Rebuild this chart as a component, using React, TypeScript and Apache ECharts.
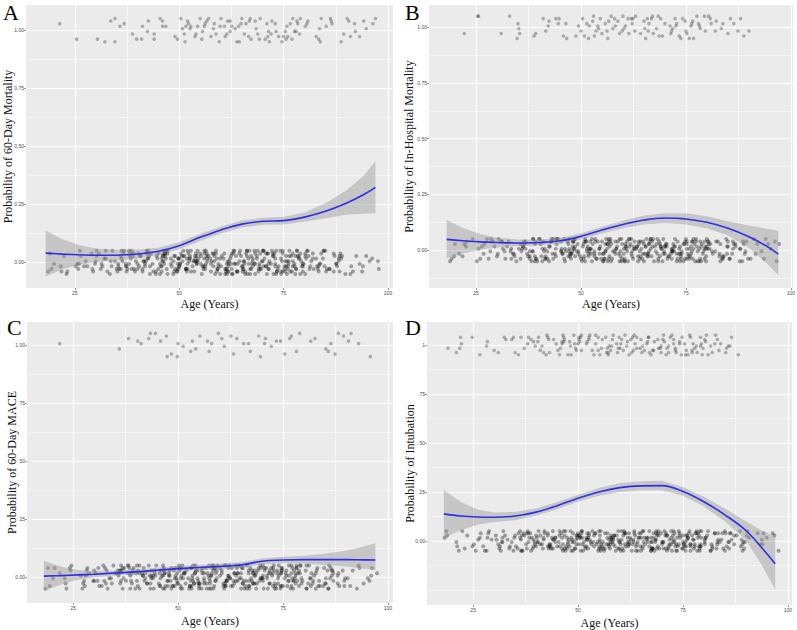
import React, { useEffect, useRef } from 'react';
import * as echarts from 'echarts';

// ---------- data ----------
const ages = [18, 22, 26, 30, 35, 40, 45, 50, 55, 60, 65, 70, 75, 80, 85, 90, 94, 97];

const fitA = [0.040, 0.036, 0.033, 0.031, 0.031, 0.036, 0.048, 0.072, 0.108, 0.140, 0.165, 0.177, 0.180, 0.195, 0.220, 0.255, 0.290, 0.323];
const highA = [0.138, 0.100, 0.075, 0.060, 0.055, 0.056, 0.063, 0.087, 0.124, 0.155, 0.180, 0.192, 0.197, 0.215, 0.255, 0.310, 0.370, 0.435];
const lowA = [-0.060, -0.030, -0.010, 0.002, 0.008, 0.016, 0.033, 0.057, 0.092, 0.125, 0.150, 0.162, 0.163, 0.175, 0.190, 0.205, 0.210, 0.212];

const fitB = [0.048, 0.042, 0.037, 0.034, 0.032, 0.034, 0.042, 0.062, 0.090, 0.115, 0.135, 0.144, 0.140, 0.125, 0.098, 0.060, 0.020, -0.018];
const highB = [0.135, 0.098, 0.072, 0.056, 0.048, 0.047, 0.055, 0.076, 0.105, 0.132, 0.155, 0.166, 0.165, 0.152, 0.130, 0.110, 0.097, 0.087];
const lowB = [-0.037, -0.014, 0.002, 0.012, 0.017, 0.021, 0.029, 0.048, 0.075, 0.098, 0.115, 0.122, 0.115, 0.098, 0.066, 0.010, -0.055, -0.113];

const fitC = [0.004, 0.006, 0.009, 0.012, 0.017, 0.022, 0.029, 0.036, 0.041, 0.046, 0.052, 0.068, 0.073, 0.075, 0.075, 0.075, 0.074, 0.073];
const highC = [0.070, 0.045, 0.030, 0.026, 0.028, 0.031, 0.040, 0.047, 0.052, 0.058, 0.064, 0.080, 0.087, 0.092, 0.100, 0.113, 0.130, 0.145];
const lowC = [-0.060, -0.033, -0.012, -0.002, 0.006, 0.013, 0.018, 0.025, 0.030, 0.034, 0.040, 0.055, 0.059, 0.058, 0.052, 0.045, 0.037, 0.030];

const fitD = [0.138, 0.127, 0.122, 0.121, 0.127, 0.147, 0.180, 0.218, 0.250, 0.272, 0.281, 0.282, 0.252, 0.200, 0.133, 0.053, -0.040, -0.117];
const highD = [0.260, 0.200, 0.160, 0.145, 0.148, 0.165, 0.198, 0.235, 0.270, 0.295, 0.305, 0.307, 0.275, 0.225, 0.165, 0.100, 0.050, 0.022];
const lowD = [0.014, 0.055, 0.083, 0.097, 0.105, 0.128, 0.162, 0.200, 0.230, 0.250, 0.258, 0.258, 0.230, 0.175, 0.100, 0.005, -0.130, -0.250];

// jittered observations: "age:" then pairs (age offset digit, vertical jitter digit)
const topA = ['20:77', '24:71', '30:21', '32:1088', '34:393096', '36:47', '38:4391', '40:5166', '42:2438', '44:030179', '46:080646', '48:5281',
  '50:2945708663', '52:0817354692', '54:2659840371', '56:1706388259', '58:4327961580', '60:0952467388', '62:3618751490', '64:5920164783',
  '66:0748325961', '68:2579436118', '70:6231805774', '72:1864920357', '74:3096527481', '76:8451026937', '78:2718590443',
  '80:163748', '82:42857190', '84:0966', '86:281937', '88:4073', '90:381952', '92:146207', '94:1845', '96:2759'];
const zeroA = ['18:317258', '20:048391', '22:615027', '24:928463', '26:2719046385', '28:5803716294', '30:1962837405', '32:4170938526', '34:8235610974',
  '36:0716253849718263', '38:3958172604857132', '40:6204931875236147', '42:1839504726681953', '44:7052839146209374',
  '46:2946183705526817493860', '48:8130965247713592068441', '50:5782140396829167450328', '52:0463978125361849027596',
  '54:9317250864148305926715', '56:3609841257762913084538', '58:6251739048305627491862', '60:1794036285527493816170',
  '62:4038592716913058247469', '64:7562018439284761539025', '66:0817364952671920348586', '68:5249781036950472631814',
  '70:2685097413436819057248', '72:9371542860718253690437', '74:4126839075193587214962', '76:8490316527630214978351',
  '78:3758024619841936502783', '80:621049738517', '82:947306128462', '84:085972436139', '86:519384026758', '88:274690153821',
  '90:638150', '92:912764', '94:470385', '96:859216'];
const extraA = ['30:4817', '32:0629', '34:5273', '36:73196402', '38:18620957', '40:94370285', '42:36059184', '44:58213796',
  '46:6924073815', '48:1357960482', '50:8206143759', '52:3741850926', '54:7058293614', '56:2495068137',
  '58:9613742508', '60:4836915072', '62:0587326491', '64:6372049185', '66:1950836274', '68:8264513709',
  '70:5019687243', '72:2748301956', '74:7163954820', '76:0329476815', '78:6581027394', '80:39571826', '82:71084653',
  '84:2639', '86:8402', '88:5716'];

const topB = ['22:12', '24:7989', '30:52', '32:59', '34:56726440', '38:4162', '40:5883', '42:2715', '44:08489136', '46:2630', '48:7541',
  '50:2876034190', '52:4761830559', '54:1405385296', '56:6920133784', '58:0847621593', '60:3568097214', '62:5916284308',
  '64:1270649857', '66:4803165962', '68:7158290431', '70:0694837265', '72:3571462890', '74:6218904753', '76:1540372689',
  '78:8306157924', '80:295648', '82:17039674', '84:5288', '86:2673', '88:4108', '90:03'];
const zeroB = ['18:926140', '20:530792', '22:174836', '24:856019', '26:4389012657', '28:7601583924', '30:0275946813', '32:9348260175', '34:6512879430',
  '36:2894051637924816', '38:5039716824103957', '40:8175320964458271', '42:3620487159932604', '44:6483197502176839',
  '46:1057836924480193726515', '48:7392540618253967180432', '50:4826019375106842593768', '52:9164782530638179042315',
  '54:2508364197947360815823', '56:6731095842271584396017', '58:0469721853809136257489', '60:5815367920462097138654',
  '62:1276804536983521760948', '64:8943125076315748926301', '66:3586940217694203581739', '68:7021658394138965472056',
  '70:0694273185527381069442', '72:4358910726861429735180', '74:9127486503043795618267', '76:2860134978579016243894',
  '78:6415789230218653907571', '80:350918642773', '82:819267045318', '84:467102583956', '86:032795461847', '88:785320916405',
  '90:216983', '92:548107', '94:093765', '96:673018'];
const extraB = ['30:2958', '32:7164', '34:0381', '36:45917263', '38:80346152', '40:27581940', '42:63015879', '44:19748305',
  '46:5281640973', '48:0836297415', '50:7450318692', '52:3918056247', '54:8163702594', '56:4620597138',
  '58:1397486025', '60:6045213789', '62:9782650314', '64:2518930476', '66:7039145628', '68:3856071942',
  '70:8403269517', '72:1675834092', '74:5920417368', '76:3186790245', '78:9547102836', '80:06284715', '82:52916038',
  '84:7143', '86:1590', '88:3847'];

const topC = ['20:95', '36:03', '38:17', '40:2665', '42:5779', '44:3996', '46:7068', '48:2190', '50:0564', '52:5276', '54:1368', '56:5672',
  '58:0589', '60:2754', '62:3861', '64:0785', '66:4562', '68:6880', '70:3547', '72:1476', '74:2671', '76:5837', '78:1259',
  '80:86', '82:37', '84:6392', '86:2571', '88:1978', '90:3669', '92:55', '94:90'];
const zeroC = ['18:582071', '20:149638', '22:706254', '24:391827', '26:6045839172', '28:2893170546', '30:9126584307', '32:5760231984', '34:0439875612',
  '36:8317062954481723', '38:1652904378563019', '40:4906138527219846', '42:7284591603876532', '44:3510867249042791',
  '46:9637254081735146208395', '48:2084619375960728413157', '50:6419385027314592867630', '52:0753924168583061742489',
  '54:5196803742069834521706', '56:8342167095741256903814', '58:1867430529386419270653', '60:4205796183625973084127',
  '62:7631058924190548637295', '64:2978341650837216549068', '66:5029687413468792015341', '68:9468125730253684179802',
  '70:3814972065701358926419', '72:6150389247874931062586', '74:0597214836318647953720', '76:8723560194594025136873',
  '78:2369741805061872594136', '80:748130965239', '82:136857024691', '84:905264318748', '86:563709142853', '88:219483670516',
  '90:872451', '92:305968', '94:641283', '96:180576'];
const extraC = ['30:6103', '32:3842', '34:9576', '36:12684037', '38:67093528', '40:40851976', '42:85327014', '44:26940581',
  '46:0715382946', '48:6492057813', '50:1834760259', '52:9260418375', '54:4387195062', '56:7913826540',
  '58:2056314879', '60:8371945026', '62:5124087693', '64:0849561372', '66:9683204751', '68:4215738906',
  '70:1592860437', '72:7036521894', '74:3874092651', '76:6451837029', '78:0219564783', '80:84306927', '82:25718340',
  '84:9062', '86:4735', '88:0281'];

const topD = ['18:53', '20:5193', '22:0815', '24:48', '26:30', '28:2614', '30:5102', '32:4728', '34:17389051', '36:2863', '38:0594471876',
  '40:3826915274', '42:6148203957', '44:1793624580', '46:47801536293816', '48:06591482736520', '50:38264917051842',
  '52:72053849163790', '54:15974260831948', '56:60384192745361', '58:29716504839817', '60:84150327966942', '62:41627985103758',
  '64:57084361927403', '66:92365170484825', '68:16839402576391', '70:63501784298136', '72:08452963716247', '74:75163048921580',
  '76:39627510486193', '78:21806493751468', '80:8417263950', '82:4935016782', '84:05739461', '86:3814', '88:10'];
const zeroD = ['18:473916', '20:806254', '22:295187', '24:638042', '26:1572904836', '28:4926381075', '30:8053619427', '32:3781046592', '34:6298573014',
  '36:9140836725163098', '38:2675140938847261', '40:5307962481395724', '42:0851427396628147', '44:7436098215053689',
  '46:3962715084419576230811', '48:6185349702837154962048', '50:1730482659564908271336', '52:8497021563183726450592',
  '54:4023657918706451839267', '56:9658104372218397045681', '58:2314896705850642913725', '60:7840253196472913680459',
  '62:0279531864903578261403', '64:5603718942361084795826', '66:8126347059745236918170', '68:3571980624086741523958',
  '70:6047215839519367042481', '72:1392864570375480196234', '74:9754032618847251630917', '76:4281679305163928754043',
  '78:7936420851625019387662', '80:591347802614', '82:027863519438', '84:683150947215', '86:359728041863', '88:816042395574',
  '90:462917', '92:739548', '94:185603', '96:904728'];
const extraD = ['30:7235', '32:1906', '34:4681', '36:58203719', '38:93561840', '40:16739502', '42:72480963', '44:34015287',
  '46:8359164720', '48:2687403519', '50:9153826074', '52:5406792138', '54:0871345962', '56:6328019475',
  '58:3794502681', '60:9410637258', '62:4065928713', '64:7238145096', '66:2591760384', '68:6947381025',
  '70:0382956714', '72:5816207349', '74:8057634192', '76:1643928507', '78:4720186359', '80:93152680', '82:38640175',
  '84:5928', '86:0167', '88:6394'];

const xTicks = [25, 50, 75, 100];
const xTickLabels = ['25', '50', '75', '100'];
const xMinor = [37.5, 62.5, 87.5];
const yTicks = [0, 0.25, 0.5, 0.75, 1];
const yMinor = [-0.25, -0.125, 0.125, 0.375, 0.625, 0.875];
const yLabelsA = ['0.00', '0.25', '0.50', '0.75', '1.00'];
const yLabelsB = ['0.00', '0.25', '0.50', '0.75', '1.00'];
const yLabelsC = ['0.00', '25', '50', '75', '1.00'];
const yLabelsD = ['0.00', '.25', '.50', '.75', '1'];

const letters = ['A', 'B', 'C', 'D'];
const yTitles = ['Probability of 60-Day Mortality', 'Probability of In-Hospital Mortality', 'Probability of 60-Day MACE', 'Probability of Intubation'];
const xTitle = 'Age (Years)';

// ---------- layout ----------
const layout = [
  { grid: { left: 26, top: 5, width: 367, height: 283 }, x: [13.3, 101.2], y: [-0.11, 1.108], tx: 8, xGap: 10, lx: 3, ly: 12 },
  { grid: { left: 429, top: 5, width: 364, height: 283 }, x: [13.8, 100.5], y: [-0.17, 1.10], tx: 409, xGap: 10, lx: 405, ly: 12 },
  { grid: { left: 27, top: 322, width: 366, height: 281 }, x: [14, 101.2], y: [-0.112, 1.099], tx: 12, xGap: 12, lx: 7, ly: 327 },
  { grid: { left: 427, top: 322, width: 365, height: 283 }, x: [14, 101], y: [-0.327, 1.117], tx: 410, xGap: 12, lx: 405, ly: 327 },
];

function decode(rows: string[], base: number): number[][] {
  const out: number[][] = [];
  rows.forEach((r) => {
    const [a, s] = r.split(':');
    for (let i = 0; i + 1 < s.length; i += 2) {
      out.push([Number(a) + Number(s[i]) * 0.2, base + (Number(s[i + 1]) - 4.5) / 90]);
    }
  });
  return out;
}

const panels = [
  { fit: fitA, low: lowA, high: highA, top: topA, zero: zeroA.concat(extraA), yl: yLabelsA },
  { fit: fitB, low: lowB, high: highB, top: topB, zero: zeroB.concat(extraB), yl: yLabelsB },
  { fit: fitC, low: lowC, high: highC, top: topC, zero: zeroC.concat(extraC), yl: yLabelsC },
  { fit: fitD, low: lowD, high: highD, top: topD, zero: zeroD.concat(extraD), yl: yLabelsD },
];

function buildOption() {
  const grid: any[] = [];
  const xAxis: any[] = [];
  const yAxis: any[] = [];
  const series: any[] = [];
  const graphic: any[] = [];
  const tickLabelStyle = { fontSize: 5, color: '#4D4D4D', fontFamily: 'Liberation Sans', margin: 2 };
  const titleStyle = { fontSize: 12, color: '#111', fontFamily: 'Liberation Serif' };

  panels.forEach((p, i) => {
    const L = layout[i];
    grid.push({ ...L.grid, show: true, backgroundColor: '#EBEBEB', borderWidth: 0, containLabel: false, outerBoundsMode: 'none' });
    xAxis.push({
      type: 'value', gridIndex: i, min: L.x[0], max: L.x[1],
      axisLine: { show: false, onZero: false },
      axisTick: { show: true, length: 2, customValues: xTicks, lineStyle: { color: '#333', width: 0.5 } },
      axisLabel: { ...tickLabelStyle, customValues: xTicks, formatter: (v: number) => xTickLabels[xTicks.indexOf(v)] ?? '' },
      splitLine: { show: false },
      name: xTitle, nameLocation: 'middle', nameGap: L.xGap, nameTextStyle: titleStyle,
    });
    yAxis.push({
      type: 'value', gridIndex: i, min: L.y[0], max: L.y[1],
      axisLine: { show: false, onZero: false },
      axisTick: { show: true, length: 2, customValues: yTicks, lineStyle: { color: '#333', width: 0.5 } },
      axisLabel: { ...tickLabelStyle, customValues: yTicks, formatter: (v: number) => p.yl[yTicks.indexOf(v)] ?? '' },
      splitLine: { show: false },
    });

    const inX = (v: number) => v > L.x[0] && v < L.x[1];
    const inY = (v: number) => v > L.y[0] && v < L.y[1];
    const majorLines = [
      ...xTicks.filter(inX).map((v) => ({ coords: [[v, L.y[0]], [v, L.y[1]]] })),
      ...yTicks.filter(inY).map((v) => ({ coords: [[L.x[0], v], [L.x[1], v]] })),
    ];
    const minorLines = [
      ...xMinor.filter(inX).map((v) => ({ coords: [[v, L.y[0]], [v, L.y[1]]] })),
      ...yMinor.filter(inY).map((v) => ({ coords: [[L.x[0], v], [L.x[1], v]] })),
    ];
    series.push({
      type: 'lines', coordinateSystem: 'cartesian2d', xAxisIndex: i, yAxisIndex: i, silent: true, z: 1,
      lineStyle: { color: '#FFFFFF', width: 0.5, opacity: 1 }, data: minorLines,
    });
    series.push({
      type: 'lines', coordinateSystem: 'cartesian2d', xAxisIndex: i, yAxisIndex: i, silent: true, z: 1,
      lineStyle: { color: '#FFFFFF', width: 1.1, opacity: 1 }, data: majorLines,
    });

    series.push({
      type: 'scatter', xAxisIndex: i, yAxisIndex: i, silent: true, z: 2, symbolSize: 4,
      itemStyle: { color: '#000000', opacity: 0.34 }, data: decode(p.zero, 0),
    });
    series.push({
      type: 'scatter', xAxisIndex: i, yAxisIndex: i, silent: true, z: 2, symbolSize: 3.6,
      itemStyle: { color: '#000000', opacity: 0.28 }, data: decode(p.top, 1),
    });

    series.push({
      type: 'custom', xAxisIndex: i, yAxisIndex: i, silent: true, z: 3,
      data: [0],
      renderItem: (_params: any, api: any) => {
        const up = ages.map((a, k) => api.coord([a, p.high[k]]));
        const lo = ages.map((a, k) => api.coord([a, p.low[k]])).reverse();
        return {
          type: 'polygon',
          shape: { points: up.concat(lo) },
          style: { fill: 'rgba(153,153,153,0.45)' },
        };
      },
    });
    series.push({
      type: 'line', xAxisIndex: i, yAxisIndex: i, silent: true, z: 4,
      symbol: 'none', smooth: 0.4, lineStyle: { color: '#2E2EE6', width: 1.6 },
      data: ages.map((a, k) => [a, p.fit[k]]),
    });

    graphic.push({
      type: 'text', x: L.lx, y: L.ly, silent: true,
      style: { text: letters[i], fontSize: 22, fontFamily: 'Liberation Serif', fill: '#000', verticalAlign: 'middle', align: 'left' },
    });
    graphic.push({
      type: 'text', x: L.tx, y: L.grid.top + L.grid.height / 2, rotation: Math.PI / 2, silent: true,
      style: { text: yTitles[i], fontSize: 12, fontFamily: 'Liberation Serif', fill: '#111', verticalAlign: 'middle', align: 'center' },
    });
  });

  return { animation: false, backgroundColor: '#FFFFFF', grid, xAxis, yAxis, series, graphic };
}

export default function App() {
  const ref = useRef<HTMLDivElement>(null);
  useEffect(() => {
    if (!ref.current) return;
    const chart = echarts.init(ref.current, undefined, { renderer: 'svg' });
    chart.setOption(buildOption() as any);
    return () => chart.dispose();
  }, []);
  return <div ref={ref} style={{ position: 'fixed', left: 0, top: 0, width: 797, height: 630 }} />;
}
